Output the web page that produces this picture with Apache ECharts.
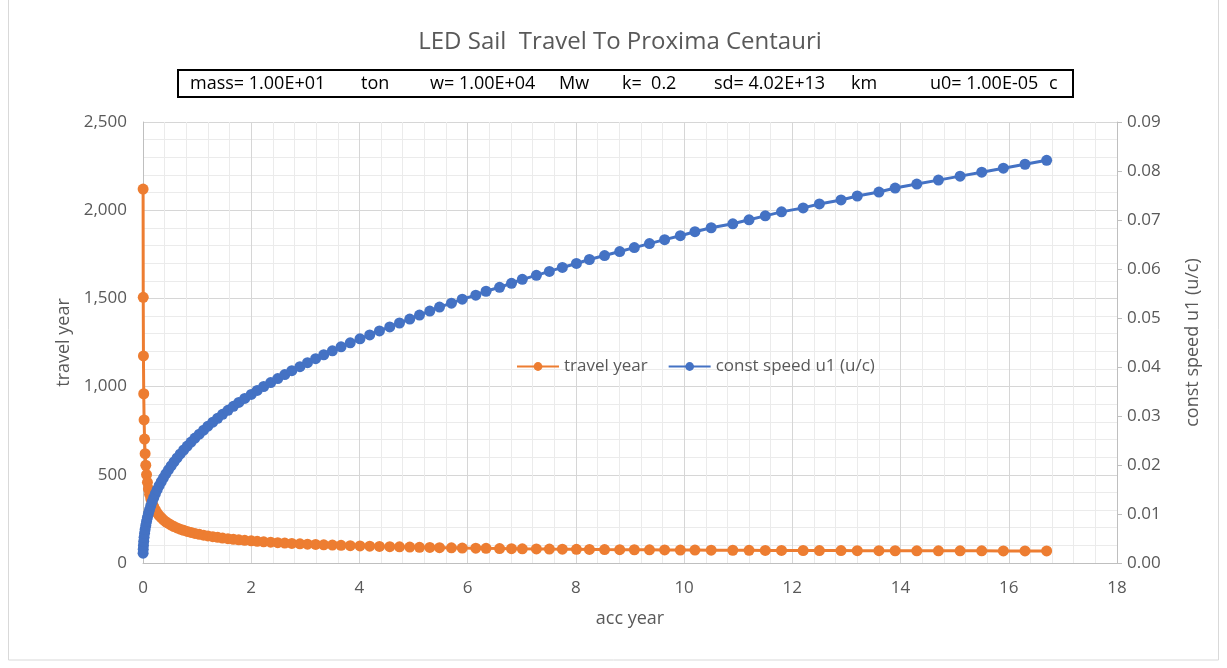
<!DOCTYPE html>
<html>
<head>
<meta charset="utf-8">
<script src="https://cdn.jsdelivr.net/npm/echarts@6/dist/echarts.min.js"></script>
<style>
html,body{margin:0;padding:0;background:#fff;}
#chart{width:1227px;height:668px;}
</style>
</head>
<body>
<div id="chart"></div>
<script>
const titleText = 'LED Sail  Travel To Proxima Centauri';
const paramTexts = ['mass= 1.00E+01', 'ton', 'w= 1.00E+04', 'Mw', 'k=  0.2', 'sd= 4.02E+13', 'km', 'u0= 1.00E-05', 'c'];
const xAxisName = 'acc year';
const yLeftName = 'travel year';
const yRightName = 'const speed u1 (u/c)';
const seriesNames = ['travel year', 'const speed u1 (u/c)'];

const accYear = [
  0.00193,0.00443,0.00822,0.01345,0.0203,0.0288,0.0391,0.0513,0.0656,0.0819,
  0.100,0.121,0.144,0.170,0.198,0.229,0.262,0.298,0.337,0.378,
  0.422,0.470,0.520,0.573,0.630,0.689,0.752,0.818,0.888,0.960,
  1.04,1.12,1.20,1.29,1.38,1.47,1.57,1.67,1.77,1.88,
  2.00,2.11,2.23,2.36,2.49,2.62,2.75,2.90,3.04,3.19,
  3.34,3.50,3.66,3.83,4.01,4.19,4.37,4.56,4.74,4.93,
  5.11,5.30,5.48,5.70,5.90,6.15,6.34,6.59,6.81,7.01,
  7.27,7.51,7.75,8.01,8.25,8.53,8.81,9.08,9.36,9.64,
  9.93,10.2,10.5,10.9,11.2,11.5,11.8,12.2,12.5,12.9,
  13.2,13.6,13.9,14.3,14.7,15.1,15.5,15.9,16.3,16.7
];
const travelYear = [
  2120,1506,1174.0,959.4,811.1,702.5,619.5,554.2,501.3,457.6,
  420.9,389.6,362.7,339.4,318.8,300.6,284.4,269.8,256.6,244.8,
  233.9,224.1,214.9,206.6,198.8,191.7,185.1,178.8,173.1,167.7,
  162.6,157.9,153.4,149.2,145.3,141.5,138.0,134.6,131.5,128.4,
  125.5,122.8,120.2,117.8,115.4,113.1,111.1,109.0,107.0,105.1,
  103.3,101.6,100.0,98.4,96.9,95.5,94.0,92.7,91.5,90.3,
  89.1,88.0,86.9,85.8,84.8,84.0,83.0,82.1,81.3,80.4,
  79.7,78.9,78.3,77.5,76.9,76.2,75.7,75.1,74.6,74.0,
  73.5,73.1,72.6,72.3,71.9,71.5,71.1,70.8,70.5,70.3,
  69.9,69.7,69.4,69.3,69.1,68.9,68.8,68.6,68.5,68.4
];
const speedU1 = [
  0.00200,0.00281,0.00362,0.00443,0.00524,0.00605,0.00686,0.00767,0.00848,0.00929,
  0.01010,0.01091,0.01172,0.01253,0.01334,0.01415,0.01496,0.01577,0.01658,0.01739,
  0.01820,0.01901,0.01982,0.02063,0.02144,0.02225,0.02306,0.02387,0.02468,0.02549,
  0.02630,0.02711,0.02792,0.02873,0.02954,0.03035,0.03116,0.03197,0.03278,0.03359,
  0.03440,0.03521,0.03602,0.03683,0.03764,0.03845,0.03926,0.04007,0.04088,0.04169,
  0.04250,0.04331,0.04412,0.04493,0.04574,0.04655,0.04736,0.04817,0.04898,0.04979,
  0.05060,0.05141,0.05222,0.05303,0.05384,0.05465,0.05546,0.05627,0.05708,0.05789,
  0.05870,0.05951,0.06032,0.06113,0.06194,0.06275,0.06356,0.06437,0.06518,0.06599,
  0.06680,0.06761,0.06842,0.06923,0.07004,0.07085,0.07166,0.07247,0.07328,0.07409,
  0.07490,0.07571,0.07652,0.07733,0.07814,0.07895,0.07976,0.08057,0.08138,0.08219
];

const FONT = 'Open Sans, Noto Sans, sans-serif';
const GRAY = '#595959';
const chart = echarts.init(document.getElementById('chart'), null, {renderer: 'canvas'});

const paramX = [190, 361, 430, 559, 622, 714, 851, 930, 1049];
const graphic = [
  {type: 'rect', shape: {x: 8.5, y: -2, width: 1210, height: 662}, style: {fill: 'none', stroke: '#d9d9d9', lineWidth: 1}, silent: true, z: -10},
  {type: 'text', x: 620, y: 42, style: {text: titleText, font: '24px ' + FONT, fill: GRAY, textAlign: 'center', textVerticalAlign: 'middle'}},
  {type: 'rect', shape: {x: 178, y: 70, width: 895, height: 27}, style: {fill: '#fff', stroke: '#000', lineWidth: 2}}
];
paramTexts.forEach((t, i) => {
  graphic.push({type: 'text', x: paramX[i], y: 84, style: {text: t, font: '18px ' + FONT, fill: '#000', textVerticalAlign: 'middle'}});
});

const option = {
  backgroundColor: '#fff',
  animation: false,
  graphic: graphic,
  grid: {left: 143, right: 110, top: 122, bottom: 105, containLabel: false},
  legend: {
    data: seriesNames,
    left: 511, top: 353,
    itemWidth: 42, itemHeight: 11, itemGap: 20,
    textStyle: {color: GRAY, fontSize: 17, fontFamily: FONT}
  },
  xAxis: {
    type: 'value', min: 0, max: 18, interval: 2,
    name: xAxisName, nameLocation: 'middle', nameGap: 47,
    nameTextStyle: {color: GRAY, fontSize: 18, fontFamily: FONT},
    axisLine: {show: true, onZero: false, lineStyle: {color: '#bfbfbf', width: 1}},
    axisTick: {show: false},
    axisLabel: {color: GRAY, fontSize: 17, fontFamily: FONT, margin: 17},
    splitLine: {show: true, lineStyle: {color: '#d6d6d6', width: 1}},
    minorTick: {show: false, splitNumber: 5},
    minorSplitLine: {show: true, lineStyle: {color: '#ebebeb', width: 1}}
  },
  yAxis: [
    {
      type: 'value', min: 0, max: 2500, interval: 500,
      name: yLeftName, nameLocation: 'middle', nameGap: 69, nameRotate: 90,
      nameTextStyle: {color: GRAY, fontSize: 18, fontFamily: FONT},
      axisLine: {show: true, lineStyle: {color: '#bfbfbf', width: 1}},
      axisTick: {show: false},
      axisLabel: {color: GRAY, fontSize: 17, fontFamily: FONT, margin: 16,
        formatter: v => v.toLocaleString('en-US')},
      splitLine: {show: true, lineStyle: {color: '#d6d6d6', width: 1}},
      minorTick: {show: false, splitNumber: 5},
      minorSplitLine: {show: true, lineStyle: {color: '#ebebeb', width: 1}}
    },
    {
      type: 'value', min: 0, max: 0.09, interval: 0.01, position: 'right',
      name: yRightName, nameLocation: 'middle', nameGap: 67, nameRotate: 90,
      nameTextStyle: {color: GRAY, fontSize: 18, fontFamily: FONT},
      axisLine: {show: true, lineStyle: {color: '#bfbfbf', width: 1}},
      axisTick: {show: true, length: 5, inside: false, lineStyle: {color: '#bfbfbf'}},
      axisLabel: {color: GRAY, fontSize: 17, fontFamily: FONT, margin: 10,
        formatter: v => v.toFixed(2)},
      splitLine: {show: false}
    }
  ],
  series: [
    {
      name: seriesNames[0], type: 'line', yAxisIndex: 0,
      data: accYear.map((x, i) => [x, travelYear[i]]),
      symbol: 'circle', symbolSize: 11, showSymbol: true,
      lineStyle: {color: '#ED7D31', width: 3},
      itemStyle: {color: '#ED7D31'}, z: 3
    },
    {
      name: seriesNames[1], type: 'line', yAxisIndex: 1,
      data: accYear.map((x, i) => [x, speedU1[i]]),
      symbol: 'circle', symbolSize: 11, showSymbol: true,
      lineStyle: {color: '#4472C4', width: 3},
      itemStyle: {color: '#4472C4'}, z: 4
    }
  ]
};
chart.setOption(option);
</script>
</body>
</html>
